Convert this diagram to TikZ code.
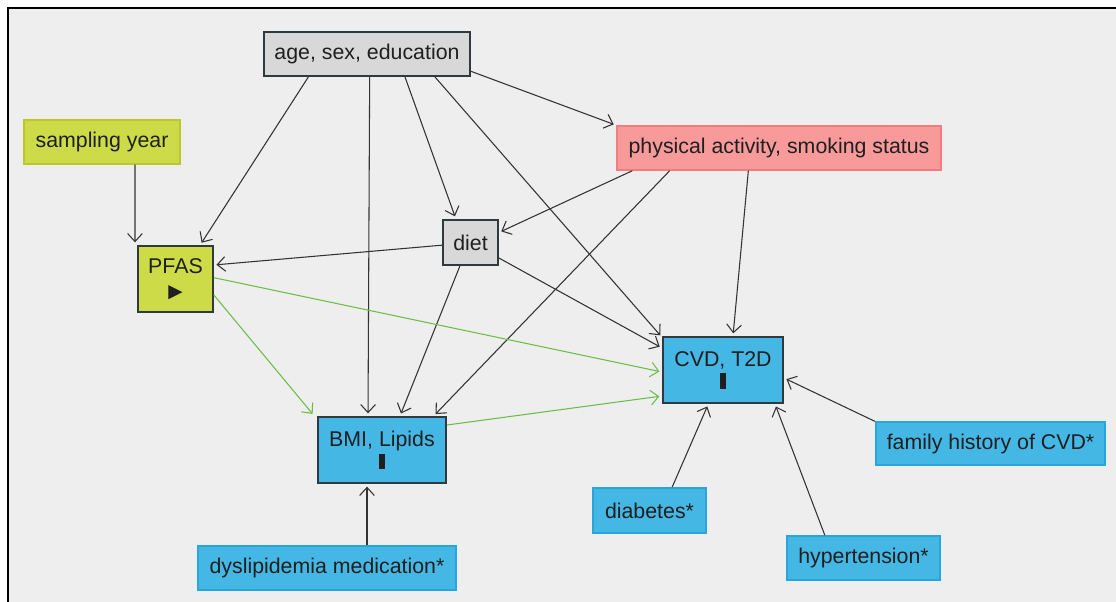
\documentclass[tikz,border=0pt]{standalone}
\usepackage{fontspec}
\setmainfont{Liberation Sans}
\newfontfamily\symfont{DejaVu Sans}
\usepackage{xcolor}
\usetikzlibrary{arrows.meta}
\definecolor{canvasgrey}{HTML}{EEEEEE}
\definecolor{confgrey}{HTML}{D8D8D8}
\definecolor{expolime}{HTML}{CDDB48}
\definecolor{limeedge}{HTML}{B9C92C}
\definecolor{ancpink}{HTML}{F99A9A}
\definecolor{pinkedge}{HTML}{F47C7C}
\definecolor{outblue}{HTML}{45B7E4}
\definecolor{blueedge}{HTML}{27A6DD}
\definecolor{boxedge}{HTML}{303A3E}
\definecolor{edgegrey}{HTML}{333333}
\definecolor{pathgreen}{HTML}{6CBE48}

\begin{document}
\begin{tikzpicture}[x=0.75pt, y=-0.75pt,
  every node/.style={font=\fontsize{16}{19}\selectfont, text=black!88},
  var/.style={inner sep=0pt, align=center},
  confounder/.style={var, draw=boxedge, line width=1.5pt, fill=confgrey},
  exposure/.style={var, draw=boxedge, line width=1.5pt, fill=expolime},
  outcome/.style={var, draw=boxedge, line width=1.5pt, fill=outblue},
  lime/.style={var, draw=limeedge, line width=1.1pt, fill=expolime},
  pink/.style={var, draw=pinkedge, line width=1.1pt, fill=ancpink},
  ancestor/.style={var, draw=blueedge, line width=1.1pt, fill=outblue},
  causal/.style={draw=edgegrey, line width=0.8pt, shorten >=2pt, -{Straight Barb[length=6pt,width=11pt]}},
  causalpath/.style={causal, draw=pathgreen}]
  \useasboundingbox (0,0) rectangle (1116,602);
  \fill[white] (0,0) rectangle (1116,602);
  \fill[canvasgrey] (8,8) rectangle (1116,602);
  \draw[line width=1.5pt] (1116,8) -- (8,8) -- (8,602);

  % variables
  \node[confounder, minimum width=154.5pt, minimum height=33pt] (ase) at (367,54) {age, sex, education};
  \node[lime, minimum width=117pt, minimum height=33pt] (year) at (102,142) {sampling year};
  \node[pink, minimum width=243pt, minimum height=33pt] (phys) at (779,148) {physical activity, smoking status};
  \node[exposure, minimum width=56pt, minimum height=49.5pt] (pfas) at (175.5,279) {PFAS\\[-1pt]{\symfont\fontsize{14}{14}\selectfont ▶}};
  \node[confounder, minimum width=41pt, minimum height=34pt] (diet) at (470.5,242.5) {diet};
  \node[outcome, minimum width=90pt, minimum height=49.5pt] (cvd) at (723,370) {CVD, T2D\\[-2pt]\rule{4pt}{11.5pt}};
  \node[outcome, minimum width=96pt, minimum height=49.5pt] (bmi) at (382,450) {BMI, Lipids\\[-2pt]\rule{4pt}{11.5pt}};
  \node[ancestor, minimum width=172pt, minimum height=32pt] (famh) at (990.5,443.5) {family history of CVD*};
  \node[ancestor, minimum width=85pt, minimum height=34pt] (diab) at (649.5,510.5) {diabetes*};
  \node[ancestor, minimum width=115pt, minimum height=33pt] (hyper) at (863.5,558) {hypertension*};
  \node[ancestor, minimum width=193.5pt, minimum height=33pt] (dysmed) at (327,568) {dyslipidemia medication*};

  % arrows
  \draw[causal] ([xshift=-44pt]ase.south) -- ([xshift=18.5pt]pfas.north);
  \draw[causal] ([xshift=2pt]ase.south) -- ([xshift=-10.5pt]bmi.north);
  \draw[causal] ([xshift=28.5pt]ase.south) -- ([xshift=-11pt]diet.north);
  \draw[causal] ([xshift=51pt]ase.south) -- ([yshift=-1pt]cvd.north west);
  \draw[causal] ([yshift=-13pt]ase.east) -- (phys.north west);
  \draw[causal] ([xshift=24.75pt]year.south) -- ([xshift=-30.4pt]pfas.north);
  \draw[causal] ([yshift=-2pt]diet.west) -- ([yshift=10.5pt]pfas.east);
  \draw[causal] ([xshift=-110pt]phys.south) -- ([yshift=7.5pt]diet.east);
  \draw[causal] ([xshift=-82pt]phys.south) -- ([xshift=-10pt]bmi.north east);
  \draw[causal] ([xshift=-23pt]phys.south) -- ([xshift=7.5pt]cvd.north);
  \draw[causal] ([xshift=-8pt]diet.south) -- ([xshift=13.5pt]bmi.north);
  \draw[causal] ([yshift=-11.6pt]diet.east) -- ([yshift=16.5pt]cvd.west);
  \draw[causalpath] ([yshift=1pt]pfas.east) -- ([yshift=-1.5pt]cvd.west);
  \draw[causalpath] ([yshift=-12pt]pfas.east) -- ([xshift=-2pt]bmi.north west);
  \draw[causalpath] ([yshift=18.75pt]bmi.east) -- ([yshift=-19.5pt]cvd.west);
  \draw[causal] ([xshift=30pt]dysmed.north) -- ([xshift=-11.25pt]bmi.south);
  \draw[causal] ([xshift=17pt]diab.north) -- ([xshift=-11pt]cvd.south);
  \draw[causal] ([xshift=-29pt]hyper.north) -- ([xshift=39pt]cvd.south);
  \draw[causal] (famh.north west) -- ([yshift=-6pt]cvd.east);
\end{tikzpicture}
\end{document}
